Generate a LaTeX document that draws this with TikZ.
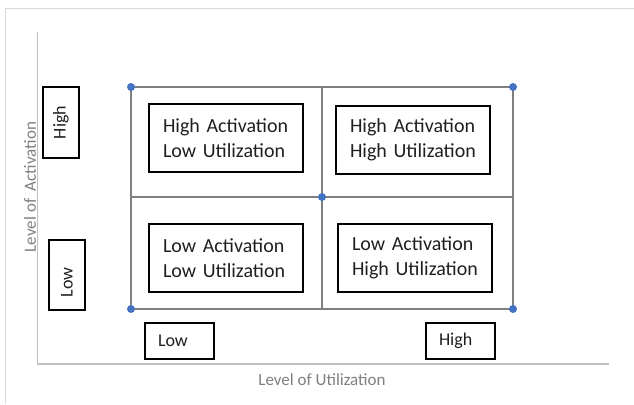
\documentclass[tikz,border=0pt]{standalone}
\usepackage{fontspec}
\setmainfont{Carlito}
\definecolor{gridgray}{HTML}{808080}
\definecolor{axisgray}{HTML}{C0C0C0}
\definecolor{framegray}{HTML}{DADADA}
\definecolor{dotblue}{HTML}{4472C4}
\definecolor{labelgray}{HTML}{7F7F7F}
\definecolor{textdark}{HTML}{1F1F1F}
\begin{document}
\begin{tikzpicture}[x=1pt,y=-1pt,
  quad/.style={draw=black, line width=1.7pt, minimum height=68pt, text width=126pt, inner xsep=14pt, inner ysep=0pt, align=left, font=\fontsize{20}{25}\selectfont, text=textdark},
  lvl/.style={draw=black, line width=1.7pt, minimum height=36pt, text width=43pt, inner xsep=13pt, inner ysep=0pt, align=left, font=\fontsize{18}{22}\selectfont, text=textdark},
  axlabel/.style={font=\fontsize{17}{20}\selectfont, text=labelgray},
  dot/.style={circle, fill=dotblue, inner sep=0pt, minimum size=8pt},
  gridline/.style={draw=gridgray, line width=1.3pt},
  axisline/.style={draw=axisgray, line width=1.3pt},
  frameline/.style={draw=framegray, line width=1pt}]
\useasboundingbox (0,0) rectangle (634,404);
% outer frame
\coordinate (fBL) at (5,404);
\coordinate (fTL) at (5,9);
\coordinate (fTR) at (634,9);
\draw[frameline] (fBL) -- (fTL) -- (fTR);
% axes
\coordinate (yTop) at (37.5,32);
\coordinate (origin) at (37.5,364);
\coordinate (xEnd) at (609,364);
\draw[axisline] (yTop) -- (origin) -- (xEnd);
% grid
\coordinate (gTL) at (131,87);
\coordinate (gTR) at (513,87);
\coordinate (gBL) at (131,309);
\coordinate (gBR) at (513,309);
\coordinate (gT) at (322,87);
\coordinate (gB) at (322,309);
\coordinate (gL) at (131,197);
\coordinate (gR) at (513,197);
\coordinate (gC) at (322,197);
\draw[gridline] (gTL) rectangle (gBR);
\draw[gridline] (gT) -- (gB);
\draw[gridline] (gL) -- (gR);
\node[dot] (dTL) at (gTL) {};
\node[dot] (dTR) at (gTR) {};
\node[dot] (dBL) at (gBL) {};
\node[dot] (dBR) at (gBR) {};
\node[dot] (dC) at (gC) {};
% quadrant boxes
\node[quad] (qTL) at (226,138) {High Activation\\Low Utilization};
\node[quad] (qTR) at (413,140) {High Activation\\High Utilization};
\node[quad] (qBL) at (226,258) {Low Activation\\Low Utilization};
\node[quad] (qBR) at (415,258) {Low Activation\\High Utilization};
% level boxes
\node[lvl, rotate=90, text width=35pt, align=center, inner xsep=18pt] (aHigh) at (61,122.5) {High};
\node[lvl, rotate=90, text width=44pt] (aLow) at (67,275) {Low};
\node[lvl] (uLow) at (179.5,341) {Low};
\node[lvl] (uHigh) at (460.5,341) {High};
% axis labels
\node[axlabel] (xlab) at (322,380) {Level of Utilization};
\node[axlabel, rotate=90] (ylab) at (30,187) {Level of\ \ Activation};
\end{tikzpicture}
\end{document}
